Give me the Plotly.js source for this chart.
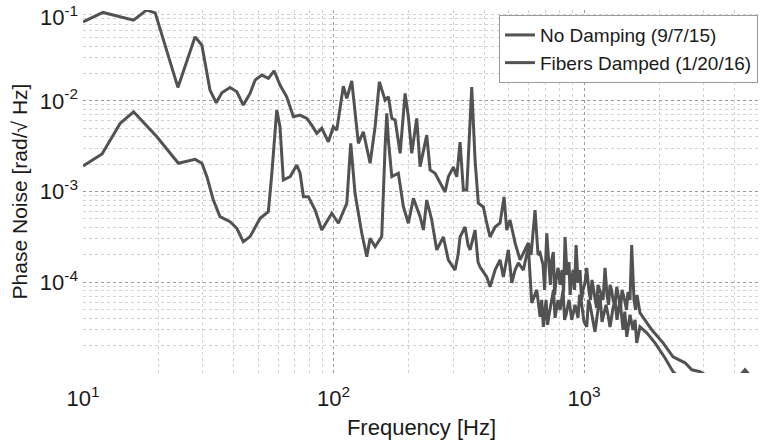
<!DOCTYPE html>
<html>
<head>
<meta charset="utf-8">
<script src="https://cdn.plot.ly/plotly-3.0.1.min.js"></script>
<style>html,body{margin:0;padding:0;background:#fff;}#chart{width:760px;height:447px;}</style>
</head>
<body>
<div id="chart"></div>
<script>
// ---- data ----
var noDampFreq = [10,12.0,15.9,17.9,19.4,23.9,28.0,29.8,32.1,34.0,
  35.8,38.6,41.1,43.6,46.4,48.6,51.7,54.9,57.9,61.1,
  65.0,69.1,73.5,78.2,81.8,85.7,89.7,95.3,99.8,103,
  109.4,112.9,118.2,125.6,131.5,139.9,146.5,152.3,160.6,165.5,
  170.8,176.1,184.4,193.0,198.9,205.2,214.8,221.5,235.5,242.8,
  254.2,266.2,278.7,287.2,300.8,310.3,319.9,329.8,340.2,356.2,
  367.2,378.4,396.3,406.3,421.5,441.3,462.1,479.4,491.4,506.5,
  530.5,555.4,581.5,599.3,614.4,637.4,655.3,667.5,686.1,695.7,
  709.8,725,733.8,743.2,754.3,763.2,773.2,787.6,802.2,817.1,
  828.5,840,855.5,871.4,879.6,887.6,904.1,916.6,929.5,946.4,
  964,977.2,991,1009,1025,1047,1062,1076,1092,1106,
  1122,1137,1169,1191,1213,1235,1253,1270,1288,1306,
  1327,1351,1380,1398,1418,1438,1458,1478,1498,1526,
  1550,1583,1606,1628,1673,1864,2068,2266,2531,2692,
  2905,3150,4150,4392,4650];
var noDampNoise = [0.0743,0.0944,0.0776,0.1,0.0933,0.01406,0.0508,0.0411,0.01314,0.00952,
  0.01227,0.01406,0.01259,0.00898,0.01208,0.01694,0.01923,0.01768,0.02145,0.01492,
  0.01109,0.00667,0.00697,0.00641,0.00540,0.00438,0.00497,0.00354,0.00518,0.00476,
  0.01453,0.01064,0.01664,0.00340,0.00456,0.00205,0.00518,0.01622,0.01019,0.01109,
  0.00641,0.00614,0.00264,0.01208,0.00667,0.00264,0.00641,0.00188,0.00419,0.00173,
  0.00159,0.00124,0.000987,0.00145,0.00186,0.00145,0.00351,0.001038,0.001038,0.01417,
  0.00222,0.000741,0.000675,0.000485,0.000315,0.000406,0.000450,0.000870,0.000376,0.000485,
  0.000271,0.000176,0.000227,0.000271,0.000200,0.000625,0.000200,0.000210,0.000155,8.22e-5,
  0.000346,0.000136,9.33e-5,0.000176,0.000215,7.24e-5,0.000106,0.000144,9.33e-5,0.000136,
  7.81e-5,0.000315,0.000120,0.000167,7.24e-5,9.33e-5,0.000136,8.22e-5,0.000257,9.82e-5,
  0.000136,6.37e-5,8.22e-5,9.82e-5,0.000144,7.81e-5,6.37e-5,0.000106,8.22e-5,6.71e-5,
  5.20e-5,9.33e-5,7.24e-5,6.37e-5,0.000144,7.24e-5,5.62e-5,9.33e-5,8.22e-5,6.37e-5,
  5.62e-5,8.87e-5,6.37e-5,4.94e-5,8.22e-5,7.24e-5,6.06e-5,4.94e-5,7.81e-5,6.37e-5,
  0.000257,6.37e-5,4.94e-5,7.24e-5,4.58e-5,2.98e-5,2.14e-5,1.50e-5,1.29e-5,1.08e-5,
  1.03e-5,9.0e-6,9.0e-6,1.08e-5,9.0e-6];

var dampedFreq = [10,11.9,14.05,15.9,19.7,24.0,28.0,29.8,31.2,33.1,
  35.2,38.6,41.1,43.6,46.4,50.9,54.9,56.7,59.3,61.1,
  63.0,67.1,71.3,73.5,75.8,79.3,84.4,89.7,98.4,104.5,
  112.9,117.1,121.8,129.6,135.7,139.9,146.5,155.7,160.6,163.1,
  165.5,170.8,181.4,190.0,198.9,208.3,221.5,228.4,235.5,246.6,
  258.2,274.4,287.2,297.2,305.5,314.1,319.9,335,344.3,350.7,
  367.2,377.4,384.5,408.9,421.5,441.3,462.1,476.4,498.7,514.6,
  530.5,546.8,572.5,599.3,618.4,647.5,667.5,677.7,688,705.3,
  715.2,725,745.3,755.5,766,787.6,802.2,824.7,836.1,847.6,
  871.4,893.3,920.9,946.4,959.4,973,1000,1025,1042,1057,
  1106,1137,1158,1180,1224,1247,1270,1306,1330,1354,
  1392,1431,1455,1481,1526,1569,1598,1623,1673,1780,
  1920,2106,2266,2450];
var dampedNoise = [0.00191,0.00259,0.00564,0.00757,0.00402,0.00205,0.00226,0.00205,0.00146,0.000806,
  0.000528,0.000465,0.000393,0.000280,0.000318,0.000507,0.000599,0.00159,0.00791,0.00518,
  0.00134,0.00146,0.00196,0.00159,0.000877,0.000877,0.000625,0.000376,0.000575,0.000446,
  0.000741,0.00340,0.000955,0.000346,0.000191,0.000305,0.000246,0.000318,0.00312,0.00727,
  0.00369,0.00146,0.00159,0.000680,0.000446,0.000841,0.000528,0.000376,0.000806,0.000485,
  0.000227,0.000315,0.000176,0.000155,0.000136,0.000200,0.000315,0.000406,0.000257,0.000227,
  0.000376,0.000167,0.000147,0.000114,8.87e-5,0.000136,0.000176,0.000114,0.000227,9.82e-5,
  0.000136,0.000163,0.000136,0.000244,5.91e-5,8.22e-5,4.14e-5,6.37e-5,3.21e-5,6.37e-5,
  3.38e-5,4.36e-5,7.24e-5,8.22e-5,4.04e-5,6.37e-5,4.94e-5,8.22e-5,3.84e-5,4.36e-5,
  6.37e-5,3.84e-5,5.62e-5,4.04e-5,7.24e-5,6.37e-5,3.65e-5,3.21e-5,6.37e-5,5.62e-5,
  2.83e-5,4.94e-5,7.24e-5,3.65e-5,5.62e-5,4.36e-5,3.21e-5,5.20e-5,6.37e-5,3.84e-5,
  6.37e-5,2.98e-5,4.72e-5,2.49e-5,4.36e-5,2.98e-5,3.84e-5,2.14e-5,3.21e-5,2.76e-5,
  2.14e-5,1.46e-5,1.03e-5,8.5e-6];

var seriesNames = ['No Damping (9/7/15)', 'Fibers Damped (1/20/16)'];
var xTickVals = [10, 100, 1000];
var xTickText = ['10<sup>1</sup>', '10<sup>2</sup>', '10<sup>3</sup>'];
var yTickVals = [1e-5, 1e-4, 1e-3, 1e-2, 1e-1];
// the top label (10^-1) is drawn nudged inside the figure, as in the reference
var yTickText = ['', '10<sup>-4</sup>', '10<sup>-3</sup>', '10<sup>-2</sup>', ''];
var yTopLabel = '10<sup>-1</sup>';

// minor grid positions (2..9 per decade)
function minorVals(d0, d1) {
  var out = [];
  for (var d = d0; d < d1; d++) for (var k = 2; k <= 9; k++) out.push(k * Math.pow(10, d));
  return out;
}

var lineColor = '#525252';
var traces = [
  {x: noDampFreq, y: noDampNoise, name: seriesNames[0], type: 'scatter', mode: 'lines',
   line: {color: lineColor, width: 3}},
  {x: dampedFreq, y: dampedNoise, name: seriesNames[1], type: 'scatter', mode: 'lines',
   line: {color: lineColor, width: 3}}
];

var fontFam = 'Liberation Sans, Arial, Helvetica, sans-serif';
var txt = '#1a1a1a';
var layout = {
  width: 760, height: 447,
  margin: {l: 83, r: 0, t: 10, b: 74},
  paper_bgcolor: '#ffffff', plot_bgcolor: '#ffffff',
  font: {family: fontFam, size: 20, color: txt},
  showlegend: true,
  legend: {x: 0.997, xanchor: 'right', y: 0.986, yanchor: 'top',
    bgcolor: '#ffffff', bordercolor: '#9a9a9a', borderwidth: 1,
    font: {family: fontFam, size: 19, color: txt}, itemwidth: 30},
  xaxis: {type: 'log', range: [0.9995, 3.7026], tickmode: 'array', tickvals: xTickVals, ticktext: xTickText,
    showgrid: true, gridcolor: '#9a9a9a', griddash: 'dot', gridwidth: 1,
    zeroline: false, showline: false, ticks: '', ticklabelstandoff: 10, ticklabeloverflow: 'allow',
    tickfont: {family: fontFam, size: 22, color: txt},
    title: {text: 'Frequency [Hz]', font: {family: fontFam, size: 22, color: txt}, standoff: 9},
    minor: {tickmode: 'array', tickvals: minorVals(1, 4), showgrid: true, gridcolor: '#d2d2d2', griddash: 'dot', gridwidth: 1, ticks: ''}},
  yaxis: {type: 'log', range: [-5.002, -0.998], tickmode: 'array', tickvals: yTickVals, ticktext: yTickText,
    showgrid: true, gridcolor: '#9a9a9a', griddash: 'dot', gridwidth: 1,
    zeroline: false, showline: false, ticks: '', ticklabelstandoff: 4, ticklabeloverflow: 'allow',
    tickfont: {family: fontFam, size: 22, color: txt},
    title: {text: 'Phase Noise [rad/√ Hz]', font: {family: fontFam, size: 21, color: txt}, standoff: 6},
    minor: {tickmode: 'array', tickvals: minorVals(-5, -1), showgrid: true, gridcolor: '#d2d2d2', griddash: 'dot', gridwidth: 1, ticks: ''}},
  annotations: [
    {text: yTopLabel, xref: 'paper', yref: 'paper', x: 0, y: 1, xanchor: 'right', yanchor: 'top',
     xshift: -4, yshift: 9, showarrow: false, borderpad: 0,
     font: {family: fontFam, size: 22, color: txt}}
  ]
};

Plotly.newPlot('chart', traces, layout, {displayModeBar: false, staticPlot: true});
</script>
</body>
</html>
